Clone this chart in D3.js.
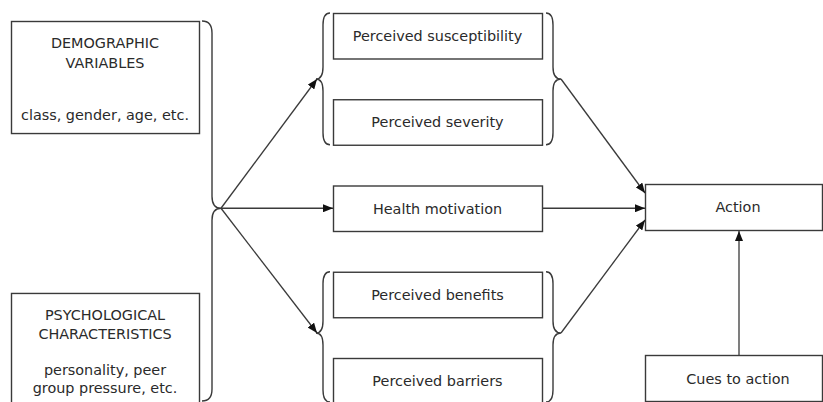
<!DOCTYPE html>
<html>
<head>
<meta charset="utf-8">
<script src="https://cdn.jsdelivr.net/npm/d3@7"></script>
<style>
html,body{margin:0;padding:0;background:#fff;}
svg{display:block;}
text{font-family:"DejaVu Sans",sans-serif;font-size:14.4px;fill:#2a2a2a;}
</style>
</head>
<body>
<svg id="chart" width="823" height="402"></svg>
<script>
// ---- data ----
const leftTitles = [["DEMOGRAPHIC", "VARIABLES"], ["PSYCHOLOGICAL", "CHARACTERISTICS"]];
const leftNotes = [["class, gender, age, etc."], ["personality, peer", "group pressure, etc."]];
const middleLabels = ["Perceived susceptibility", "Perceived severity", "Health motivation", "Perceived benefits", "Perceived barriers"];
const braceGroups = [["Perceived susceptibility", "Perceived severity"], ["Perceived benefits", "Perceived barriers"]];
const rightLabels = ["Action", "Cues to action"];

// ---- layout ----
const svg = d3.select("#chart");
const ink = "#3a3a3a";

svg.append("defs").append("marker")
  .attr("id", "arr").attr("viewBox", "0 0 10 8")
  .attr("refX", 10).attr("refY", 4)
  .attr("markerWidth", 10).attr("markerHeight", 8)
  .attr("markerUnits", "userSpaceOnUse").attr("orient", "auto")
  .append("path").attr("d", "M0,0L10,4L0,8Z").attr("fill", "#111");

const yLeft = d3.scaleBand().domain(d3.range(leftTitles.length)).range([21, 405]).paddingInner(0.588);
const yMid = d3.scaleBand().domain(middleLabels).range([13, 403.5]).paddingInner(0.4725);
const yRight = d3.scaleBand().domain(rightLabels).range([184, 401]).paddingInner(0.731);

const xLeft = [11, 199], xMid = [333, 542], xRight = [645, 822];
const rightTextX = 738;

function box(g, x0, x1, y0, h) {
  g.append("rect").attr("x", x0 + 0.5).attr("y", y0 + 0.5).attr("width", x1 - x0).attr("height", h)
    .attr("fill", "#fff").attr("stroke", ink).attr("stroke-width", 1.4);
}

// left boxes
const left = svg.append("g");
leftTitles.forEach((lines, i) => {
  const y0 = yLeft(i);
  box(left, xLeft[0], xLeft[1], y0, yLeft.bandwidth());
  const cx = (xLeft[0] + xLeft[1]) / 2;
  lines.forEach((t, j) => left.append("text").attr("x", cx).attr("y", y0 + 27 + j * 19.5)
    .attr("text-anchor", "middle").text(t));
  const notes = leftNotes[i];
  const noteStart = i === 0 ? y0 + 99 : y0 + 82;
  notes.forEach((t, j) => left.append("text").attr("x", cx).attr("y", noteStart + j * 18.5)
    .attr("text-anchor", "middle").text(t));
});

// middle boxes
const mid = svg.append("g");
middleLabels.forEach(l => {
  const y0 = yMid(l);
  box(mid, xMid[0], xMid[1], y0, yMid.bandwidth());
  mid.append("text").attr("x", (xMid[0] + xMid[1]) / 2).attr("y", y0 + yMid.bandwidth() / 2 + 5.5)
    .attr("text-anchor", "middle").text(l);
});

// right boxes
const right = svg.append("g");
rightLabels.forEach(l => {
  const y0 = yRight(l);
  box(right, xRight[0], xRight[1], y0, yRight.bandwidth());
  right.append("text").attr("x", rightTextX).attr("y", y0 + yRight.bandwidth() / 2 + 5.5)
    .attr("text-anchor", "middle").text(l);
});

function bracePath(xEnd, xMidLine, xTip, yTop, yTip, yBot) {
  const r = 12;
  return `M${xEnd},${yTop}` +
    `Q${xMidLine},${yTop} ${xMidLine},${yTop + r}` +
    `L${xMidLine},${yTip - r}` +
    `Q${xMidLine},${yTip} ${xTip},${yTip}` +
    `Q${xMidLine},${yTip} ${xMidLine},${yTip + r}` +
    `L${xMidLine},${yBot - r}` +
    `Q${xMidLine},${yBot} ${xEnd},${yBot}`;
}
const braces = svg.append("g").attr("fill", "none").attr("stroke", ink).attr("stroke-width", 1.4);

const bigTip = [221, yMid("Health motivation") + yMid.bandwidth() / 2];
braces.append("path").attr("d", bracePath(202, 212, bigTip[0], 21, bigTip[1], 401));

const braceTips = [];
braceGroups.forEach(grp => {
  const yTop = yMid(grp[0]);
  const yBot = Math.min(yMid(grp[1]) + yMid.bandwidth(), 402);
  const yTip = grp[0] === "Perceived susceptibility" ? 79 : 333;
  braces.append("path").attr("d", bracePath(330, 323, 316, yTop, yTip, yBot));
  braces.append("path").attr("d", bracePath(546, 553, 561, yTop, yTip, yBot));
  braceTips.push(yTip);
});

const arrows = svg.append("g").attr("stroke", ink).attr("stroke-width", 1.3).attr("fill", "none");
function arrow(x1, y1, x2, y2) {
  arrows.append("line").attr("x1", x1).attr("y1", y1).attr("x2", x2).attr("y2", y2).attr("marker-end", "url(#arr)");
}
const hmY = yMid("Health motivation") + yMid.bandwidth() / 2;
arrow(bigTip[0], bigTip[1], 317, braceTips[0]);
arrow(bigTip[0], bigTip[1], xMid[0], hmY);
arrow(bigTip[0], bigTip[1], 317, braceTips[1]);

const actTop = yRight("Action");
arrow(561, braceTips[0], xRight[0], actTop + 9);
arrow(xMid[1], hmY, xRight[0], hmY);
arrow(561, braceTips[1], xRight[0], actTop + 36);
arrow(rightTextX + 1, yRight("Cues to action"), rightTextX + 1, actTop + yRight.bandwidth() + 1);
</script>
</body>
</html>
